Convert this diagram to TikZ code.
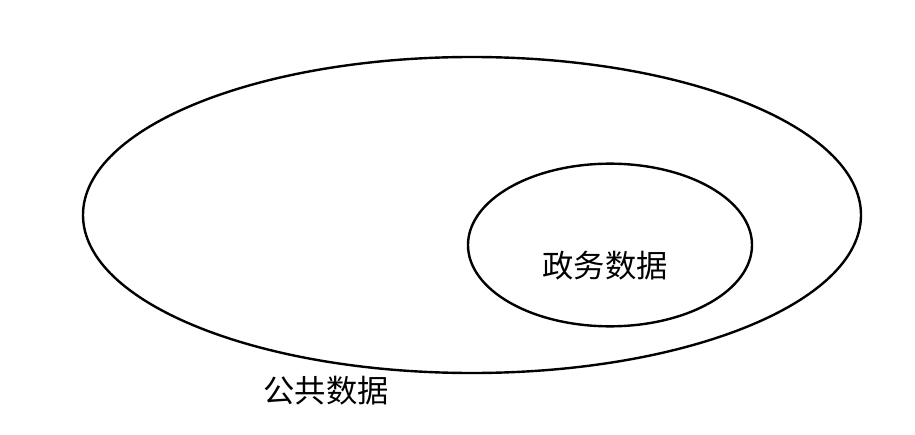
\documentclass[tikz,border=0pt]{standalone}
\usepackage{fontspec}
\setmainfont{Noto Sans CJK SC}
\usepackage{tikz}
\usetikzlibrary{shapes.geometric}

\begin{document}
\begin{tikzpicture}[x=0.75pt,y=-0.75pt,
    every node/.style={inner sep=0pt},
    set/.style={draw,ellipse,line width=1.8pt},
    setlabel/.style={font=\fontsize{23.5}{26}\selectfont}]
          \useasboundingbox (0,0) rectangle (915,435);
          \node[set,minimum width=583.5pt,minimum height=237pt] (public) at (472,215) {};
          \node[set,minimum width=213pt,minimum height=122pt] (gov) at (610,245) {};
          \node[setlabel] (govlabel) at (605,266) {政务数据};
          \node[setlabel] (publiclabel) at (326,391) {公共数据};
        \end{tikzpicture}
\end{document}
